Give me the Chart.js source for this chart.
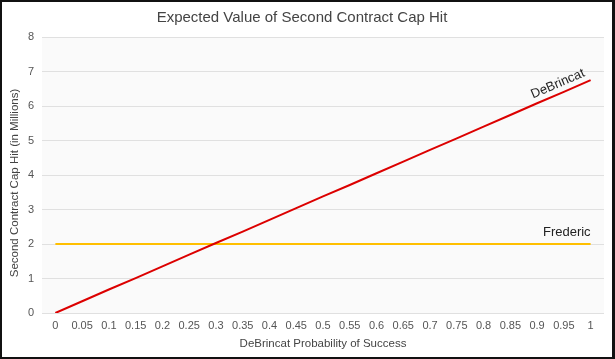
<!DOCTYPE html>
<html>
<head>
<meta charset="utf-8">
<script src="https://cdn.jsdelivr.net/npm/chart.js@4"></script>
<style>
  body { margin: 0; background: #fff; }
  #wrap { position: relative; width: 615px; height: 359px; }
  #frame { position: absolute; left: 0; top: 0; width: 615px; height: 359px; box-sizing: border-box;
           border: 2px solid #111; border-right-width: 3px; pointer-events: none; }
</style>
</head>
<body>
<div id="wrap">
  <canvas id="capChart" width="615" height="359"></canvas>
  <div id="frame"></div>
</div>
<script>
// Dados
const probabilidades = ['0', '0.05', '0.1', '0.15', '0.2', '0.25', '0.3', '0.35', '0.4', '0.45', '0.5',
                        '0.55', '0.6', '0.65', '0.7', '0.75', '0.8', '0.85', '0.9', '0.95', '1'];
const debrincat = [0, 0.34, 0.68, 1.01, 1.35, 1.69, 2.03, 2.36, 2.70, 3.04, 3.38,
                   3.71, 4.05, 4.39, 4.73, 5.06, 5.40, 5.74, 6.08, 6.41, 6.75];
const frederic = [2, 2, 2, 2, 2, 2, 2, 2, 2, 2, 2, 2, 2, 2, 2, 2, 2, 2, 2, 2, 2];
const yTicks = [0, 1, 2, 3, 4, 5, 6, 7, 8];

const fonte = "'Liberation Sans', Arial, Helvetica, sans-serif";

// Fundo cinza da área do gráfico, título do eixo Y e rótulos das linhas
const extrasPlugin = {
    id: 'extras',
    beforeDraw(chart) {
        const a = chart.chartArea;
        const ctx = chart.ctx;
        ctx.save();
        ctx.fillStyle = '#fafafa';
        ctx.fillRect(a.left, a.top, a.right - a.left, a.bottom - a.top);
        ctx.restore();
    },
    afterDraw(chart) {
        const a = chart.chartArea;
        const ctx = chart.ctx;
        ctx.save();
        ctx.translate(15, (a.top + a.bottom) / 2 + 8);
        ctx.rotate(-Math.PI / 2);
        ctx.font = '11.5px ' + fonte;
        ctx.fillStyle = '#444';
        ctx.textAlign = 'center';
        ctx.textBaseline = 'middle';
        ctx.fillText('Second Contract Cap Hit (in Millions)', 0, 0);
        ctx.restore();
    },
    afterDatasetsDraw(chart) {
        const ctx = chart.ctx;
        ctx.save();
        ctx.font = '13px ' + fonte;
        ctx.fillStyle = '#222';

        // DeBrincat, inclinado ao longo da linha
        const pts = chart.getDatasetMeta(0).data;
        const p1 = pts[pts.length - 1];
        const p0 = pts[pts.length - 3];
        const ang = Math.atan2(p1.y - p0.y, p1.x - p0.x);
        ctx.save();
        ctx.translate(p1.x, p1.y);
        ctx.rotate(ang);
        ctx.textAlign = 'right';
        ctx.textBaseline = 'bottom';
        ctx.fillText('DeBrincat', -3, -3);
        ctx.restore();

        // Frederic, acima da linha horizontal
        const f = chart.getDatasetMeta(1).data;
        const fl = f[f.length - 1];
        ctx.textAlign = 'right';
        ctx.textBaseline = 'bottom';
        ctx.fillText('Frederic', fl.x, fl.y - 5);
        ctx.restore();
    }
};

function initChart() {
    const ctx = document.getElementById('capChart').getContext('2d');
    new Chart(ctx, {
        type: 'line',
        data: {
            labels: probabilidades,
            datasets: [{
                label: 'DeBrincat',
                data: debrincat,
                borderColor: '#dc0000',
                borderWidth: 2,
                pointRadius: 0,
                tension: 0
            }, {
                label: 'Frederic',
                data: frederic,
                borderColor: '#ffbf00',
                borderWidth: 2,
                pointRadius: 0,
                tension: 0
            }]
        },
        options: {
            responsive: false,
            animation: false,
            layout: { padding: { left: 0, right: 11, top: 0, bottom: 0 } },
            plugins: {
                legend: { display: false },
                tooltip: { enabled: false },
                title: {
                    display: true,
                    text: 'Expected Value of Second Contract Cap Hit',
                    color: '#444',
                    font: { family: fonte, size: 15, weight: 'normal' },
                    padding: { top: 9, bottom: 10 }
                }
            },
            scales: {
                x: {
                    offset: true,
                    grid: { display: false, drawTicks: false },
                    border: { display: false },
                    ticks: { color: '#555', font: { family: fonte, size: 11 }, padding: 6, maxRotation: 0, autoSkip: false },
                    title: {
                        display: true,
                        text: 'DeBrincat Probability of Success',
                        color: '#444',
                        font: { family: fonte, size: 11.5 },
                        padding: { top: 0, bottom: 8 }
                    },
                    afterFit(scale) { scale.height = 46; }
                },
                y: {
                    min: 0,
                    max: 8,
                    afterBuildTicks(scale) { scale.ticks = yTicks.map(v => ({ value: v })); },
                    grid: { color: '#e0e0e0', lineWidth: 1, drawTicks: false },
                    border: { display: false },
                    ticks: { color: '#555', font: { family: fonte, size: 11 }, padding: 8 },
                    afterFit(scale) { scale.width = 42; }
                }
            }
        },
        plugins: [extrasPlugin]
    });
}

window.onload = function() {
    initChart();
};
</script>
</body>
</html>
